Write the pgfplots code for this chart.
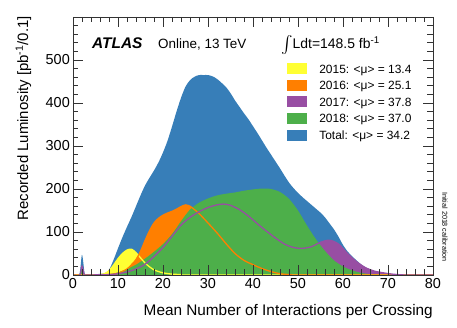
\documentclass[border=0pt]{standalone}
\usepackage{exscale}
\usepackage{fontspec}
\setmainfont{Liberation Sans}
\usepackage{pgfplots}
\usepackage{pgfplotstable}
\pgfplotsset{compat=1.18}
\definecolor{c15}{HTML}{FFFF33}
\definecolor{c16}{HTML}{FF7F00}
\definecolor{c17}{HTML}{984EA3}
\definecolor{c18}{HTML}{4DAF4A}
\definecolor{ctot}{HTML}{377EB8}

\pgfplotstableread{
x y
0 0
1.4 1
2 47
2.6 2
3 2
5 2
7 4
8 12
9 35
10 62
11 88
12 112
13 135
14 160
15 185
16 208
17 226
18 243
19 262
20 285
21 312
22 345
23 380
24 412
25 438
26 453
27 461
28 465
29 465
30 465
31 462
32 456
33 447
34 437
35 423
36 406
37 391
38 376
39 362
40 346
41 330
42 313
43 296
44 280
45 264
46 248
47 231
48 215
49 202
50 191
51 181
52 172
53 163
54 154
55 145
56 134
57 120
58 106
59 89
60 70
61 55
62 44
63 34
64 25
65 18
66 13
67 9
68 6
70 3
72 1
75 0
80 0
}\tot

\pgfplotstableread{
x y
0 0
1.5 0
2 20
2.5 1
3 1
6 1
8 2
10 6
12 14
14 24
16 38
18 54
20 72
22 95
24 125
26 152
28 168
30 178
32 185
34 189
36 192
38 196
40 199
42 201
44 200
46 193
48 177
50 150
52 115
54 83
56 56
58 34
60 20
62 11
64 5
66 2
68 1
70 0
80 0
}\yb

\pgfplotstableread{
x y
0 0
1.5 0
2 20
2.5 1
3 0
8 1
10 3
12 7
14 14
16 25
18 43
20 64
22 90
24 116
26 134
28 147
30 157
32 163
33.5 165
35 162
37 152
39 137
41 119
43 102
45 86
47 72
49 64
51 62
53 66
55 76
57 81
59 72
61 50
63 31
65 17
67 9
69 5
71 2
74 0
80 0
}\ya

\pgfplotstableread{
x y
0 0
6 0
8 1
10 4
12 14
13 24
14 36
15 55
16 80
17 103
18 121
19 132
20 139
21 144
22 148
23 153
24 159
25 163
26 160
27 152
28 143
30 121
32 98
34 73
36 50
38 34
40 24
42 15
44 8
46 3
48 1
50 0
80 0
}\ys

\pgfplotstableread{
x y
0 0
5 0
6 1
7 3
8 10
9 23
10 38
11 50
12 58
13 60
14 52
15 40
16 28
17 19
18 12
19 8
20 5
22 2
24 1
26 0
80 0
}\yf

\begin{document}
\begin{tikzpicture}
\path[use as bounding box] (0,0) rectangle (457bp,328bp);
\begin{axis}[
  at={(73bp,53bp)}, anchor=south west,
  scale only axis, width=360bp, height=258bp,
  xmin=0, xmax=80, ymin=0, ymax=600,
  xtick={0,10,...,80}, ytick={0,100,...,600},
  yticklabels={0,100,200,300,400,500,},
  minor x tick num=4, minor y tick num=4,
  tick align=inside,
  major tick length=10bp, minor tick length=5.5bp,
  every tick/.style={black!80, line width=0.8bp},
  axis line style={black!80, line width=0.9bp},
  axis on top,
  /pgf/number format/assume math mode=true,
  ticklabel style={font=\fontsize{14.5}{14.5}\selectfont},
  yticklabel style={inner sep=0pt, xshift=-3bp},
  xticklabel style={inner sep=0pt, yshift=-3.5bp},
  legend image code/.code={\fill[#1, draw=none] (0bp,-5.5bp) rectangle (20bp,5.5bp);},
  legend cell align=left,
  legend style={at={(0.594,0.823)}, anchor=north west, draw=none, fill=none,
    inner sep=0pt, outer sep=0pt, row sep=4.6bp,
    font=\fontsize{12}{12}\selectfont,
    nodes={inner sep=0pt, text height=10.5bp, text depth=1.5bp},
    /tikz/every odd column/.append style={column sep=12.5bp}},
]
\addplot[fill=ctot, draw=none, smooth, forget plot] table {\tot} \closedcycle;
\addplot[fill=c15, draw=none, smooth, forget plot] table {\yf} \closedcycle;
\addplot[fill=c16, draw=none, smooth, forget plot] table {\ys} \closedcycle;
\addplot[fill=c17, draw=none, smooth, forget plot] table {\ya} \closedcycle;
\addplot[fill=c18, draw=none, smooth, forget plot] table {\yb} \closedcycle;
\addplot[c15, line width=1.3bp, smooth, forget plot] table {\yf};
\addplot[c16, line width=1.3bp, smooth, forget plot] table {\ys};
\addplot[c17, line width=1.3bp, smooth, forget plot] table {\ya};
\addlegendimage{fill=c15}\addlegendentry{2015: <μ> = 13.4}
\addlegendimage{fill=c16}\addlegendentry{2016: <μ> = 25.1}
\addlegendimage{fill=c17}\addlegendentry{2017: <μ> = 37.8}
\addlegendimage{fill=c18}\addlegendentry{2018: <μ> = 37.0}
\addlegendimage{fill=ctot}\addlegendentry{Total: <μ> = 34.2}
\end{axis}
\node[anchor=base west, inner sep=0pt, font=\fontsize{15.5}{15.5}\selectfont\bfseries\itshape] at (92bp,279bp) {ATLAS};
\node[anchor=base west, inner sep=0pt, font=\fontsize{13.5}{13.5}\selectfont] at (158bp,279bp) {Online, 13 TeV};
\node[anchor=base west, inner sep=0pt, font=\fontsize{14}{14}\selectfont] at (281bp,279bp) {{\fontsize{19}{19}\selectfont$\int$}Ldt=148.5 fb\textsuperscript{-1}};
\node[anchor=base east, inner sep=0pt, font=\fontsize{15.4}{15.4}\selectfont] at (433bp,13bp) {Mean Number of Interactions per Crossing};
\node[anchor=base east, rotate=90, inner sep=0pt, font=\fontsize{15}{15}\selectfont] at (28bp,312bp) {Recorded Luminosity [pb\textsuperscript{-1}/0.1]};
\node[anchor=center, rotate=-90, inner sep=0pt, font=\fontsize{7.2}{7.2}\selectfont] at (445bp,101bp) {Initial 2018 calibration};
\end{tikzpicture}
\end{document}
